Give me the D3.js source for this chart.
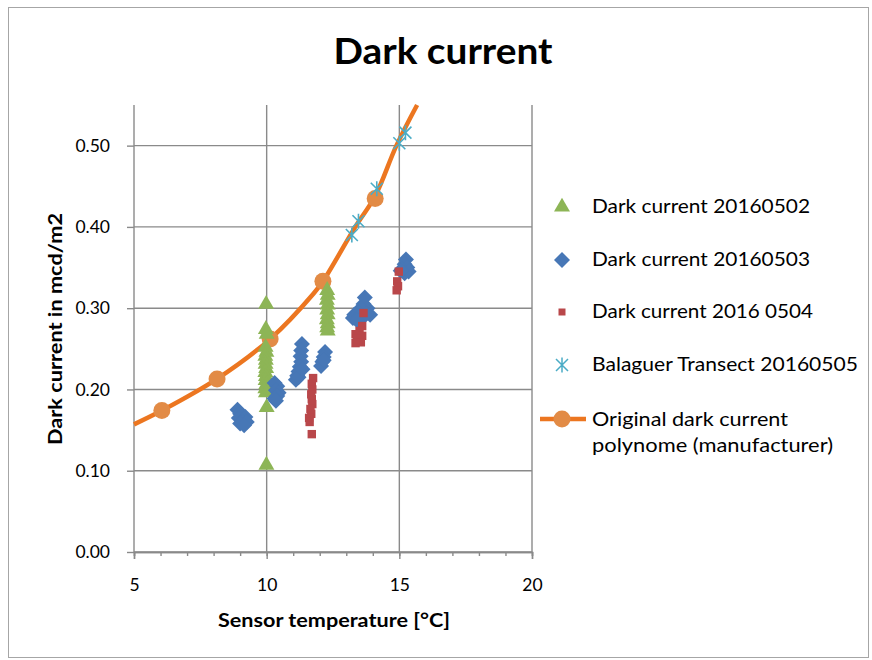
<!DOCTYPE html>
<html>
<head>
<meta charset="utf-8">
<script src="https://cdn.jsdelivr.net/npm/d3@7"></script>
<style>
  body { margin: 0; background: #fff; }
  text { font-family: Lato, "Open Sans", "DejaVu Sans", sans-serif; fill: #000; }
</style>
</head>
<body>
<svg id="chart" width="872" height="660"></svg>
<script>
// Measured dark current [temperature °C, dark current mcd/m2]
const dark0502 = [
  [9.98,0.305],[9.97,0.274],[10.0,0.268],[9.96,0.252],[9.99,0.246],[9.95,0.241],[9.97,0.236],
  [9.96,0.231],[9.98,0.226],[9.95,0.221],[9.97,0.216],[9.96,0.211],[9.98,0.206],[9.95,0.201],
  [9.97,0.196],[10.0,0.178],[9.99,0.107],
  [12.28,0.322],[12.3,0.316],[12.27,0.310],[12.3,0.304],[12.28,0.298],[12.3,0.292],[12.27,0.286],
  [12.3,0.281],[12.28,0.276],[12.3,0.272]
];
const dark0503 = [
  [8.9,0.175],[9.0,0.170],[8.95,0.165],[9.2,0.166],[9.1,0.160],[9.25,0.160],[9.0,0.158],[9.15,0.156],
  [10.3,0.208],[10.4,0.204],[10.35,0.199],[10.45,0.196],[10.4,0.192],[10.3,0.189],[10.35,0.186],
  [11.33,0.256],[11.3,0.248],[11.28,0.241],[11.3,0.234],[11.25,0.228],[11.2,0.222],[11.15,0.217],
  [11.1,0.212],[11.2,0.215],[11.35,0.225],
  [12.2,0.246],[12.15,0.240],[12.1,0.234],[12.05,0.229],[12.15,0.236],
  [13.7,0.313],[13.65,0.305],[13.8,0.300],[13.55,0.300],[13.45,0.295],[13.3,0.292],[13.25,0.288],
  [13.5,0.290],[13.9,0.292],[13.75,0.293],[13.6,0.288],[13.4,0.285],
  [15.25,0.360],[15.2,0.354],[15.3,0.350],[15.1,0.348],[15.35,0.345],[15.2,0.343],[15.05,0.346]
];
const dark0504 = [
  [11.75,0.214],[11.7,0.207],[11.72,0.200],[11.68,0.194],[11.7,0.188],[11.72,0.182],[11.65,0.176],
  [11.68,0.170],[11.6,0.165],[11.62,0.160],[11.7,0.145],
  [13.65,0.294],[13.6,0.278],[13.5,0.272],[13.35,0.268],[13.6,0.266],[13.4,0.262],[13.55,0.258],[13.35,0.257],
  [14.98,0.345],[14.92,0.333],[14.95,0.327],[14.9,0.322]
];
const balaguer0505 = [[13.21,0.390],[13.46,0.407],[14.15,0.447],[15.0,0.503],[15.23,0.516]];

// Manufacturer polynome: marked points and the traced curve
const polyMarkers = [[6.05,0.174],[8.13,0.213],[10.13,0.262],[12.12,0.333],[14.09,0.435]];
const polyCurve = [[5,0.157],[6.05,0.174],[8.13,0.213],[10.13,0.262],[11.77,0.318],[12.12,0.333],
  [13.34,0.40],[14.09,0.438],[14.89,0.50],[15.67,0.55]];

const xTicks = [5, 10, 15, 20];
const yTicks = [0, 0.1, 0.2, 0.3, 0.4, 0.5];

const legendLabels = ["Dark current 20160502", "Dark current 20160503", "Dark current 2016 0504",
  "Balaguer Transect 20160505", ["Original dark current", "polynome (manufacturer)"]];

const C = { green: "#8DB556", blue: "#4777B6", red: "#B9474A", teal: "#4BACC6",
            line: "#EC7620", dot: "#E28B46", grid: "#8A8A8A" };

const svg = d3.select("#chart");
const plot = { left: 134, right: 532, top: 105, bottom: 552 };

// chart frame
svg.append("rect").attr("x", 8.5).attr("y", 7.5).attr("width", 860).attr("height", 650)
  .attr("fill", "#fff").attr("stroke", "#A6A6A6").attr("stroke-width", 1);

const x = d3.scaleLinear().domain([5, 20]).range([plot.left, plot.right]);
const y = d3.scaleLinear().domain([0, 0.55]).range([plot.bottom, plot.top]);

// gridlines
const grid = svg.append("g");
grid.selectAll("line.v").data(xTicks).join("line")
  .attr("x1", d => x(d)).attr("x2", d => x(d)).attr("y1", plot.top).attr("y2", plot.bottom)
  .attr("stroke", C.grid).attr("stroke-width", 1.4);
grid.selectAll("line.h").data(yTicks).join("line")
  .attr("x1", plot.left).attr("x2", plot.right).attr("y1", d => y(d)).attr("y2", d => y(d))
  .attr("stroke", C.grid).attr("stroke-width", 1.4);

// axes
const xMinor = svg.append("g").attr("transform", `translate(0,${plot.bottom})`)
  .call(d3.axisBottom(x).tickValues(d3.range(5, 21, 1)).tickSize(4).tickFormat(""));
const xAxis = svg.append("g").attr("transform", `translate(0,${plot.bottom})`)
  .call(d3.axisBottom(x).tickValues(xTicks).tickSize(7).tickPadding(20).tickFormat(d3.format("d")));
const yAxis = svg.append("g").attr("transform", `translate(${plot.left},0)`)
  .call(d3.axisLeft(y).tickValues(yTicks).tickSize(7).tickPadding(17).tickFormat(d3.format(".2f")));
[xMinor, xAxis, yAxis].forEach(g => {
  g.select(".domain").attr("stroke", C.grid).attr("stroke-width", 1.4);
  g.selectAll(".tick line").attr("stroke", C.grid).attr("stroke-width", 1.4);
  g.selectAll("text").style("font-size", "17.5px").attr("fill", "#000");
});
yAxis.select(".domain").remove();

// marker shapes
const triPath = d3.symbol(d3.symbolTriangle, 110)();
const diaPath = "M0,-8L8,0L0,8L-8,0Z";
const sqPath = "M-4.2,-4.2H4.2V4.2H-4.2Z";
const starPath = "M0,-7.5V7.5M-6,-6L6,6M-6,6L6,-6";

// polynome curve (drawn beneath the measurements)
svg.append("path").datum(polyCurve)
  .attr("d", d3.line().x(d => x(d[0])).y(d => y(d[1])).curve(d3.curveCatmullRom))
  .attr("fill", "none").attr("stroke", C.line).attr("stroke-width", 4.5);
svg.append("g").selectAll("circle").data(polyMarkers).join("circle")
  .attr("cx", d => x(d[0])).attr("cy", d => y(d[1])).attr("r", 8.5).attr("fill", C.dot);

function drawSeries(data, path, style) {
  svg.append("g").selectAll("path").data(data).join("path")
    .attr("transform", d => `translate(${x(d[0])},${y(d[1])})`)
    .attr("d", path).call(style);
}
drawSeries(dark0502, triPath, s => s.attr("fill", C.green));
drawSeries(dark0503, diaPath, s => s.attr("fill", C.blue));
drawSeries(dark0504, sqPath, s => s.attr("fill", C.red));
drawSeries(balaguer0505, starPath, s => s.attr("fill", "none").attr("stroke", C.teal).attr("stroke-width", 1.6));

// title and axis titles
svg.append("text").attr("x", 443).attr("y", 64).attr("text-anchor", "middle")
  .style("font-size", "36px").style("font-weight", "bold")
  .attr("textLength", 219).attr("lengthAdjust", "spacingAndGlyphs").text("Dark current");
svg.append("text").attr("x", 334).attr("y", 627).attr("text-anchor", "middle")
  .style("font-size", "18px").style("font-weight", "bold")
  .attr("textLength", 232).attr("lengthAdjust", "spacingAndGlyphs").text("Sensor temperature [°C]");
svg.append("text").attr("transform", "translate(62,329) rotate(-90)").attr("text-anchor", "middle")
  .style("font-size", "18px").style("font-weight", "bold")
  .attr("textLength", 232).attr("lengthAdjust", "spacingAndGlyphs").text("Dark current in mcd/m2");

// legend
const legend = svg.append("g");
const lgMarkY = [207, 260, 312, 365];
const lgTextY = [213, 266, 318, 371];
const lgWidths = [218, 218, 221, 266];
const lgShapes = [
  g => g.append("path").attr("d", triPath).attr("fill", C.green),
  g => g.append("path").attr("d", diaPath).attr("fill", C.blue),
  g => g.append("path").attr("d", "M-3.5,-3.5H3.5V3.5H-3.5Z").attr("fill", C.red),
  g => g.append("path").attr("d", starPath).attr("fill", "none").attr("stroke", C.teal).attr("stroke-width", 1.5)
];
lgShapes.forEach((f, i) => {
  const g = legend.append("g").attr("transform", `translate(562,${lgMarkY[i]})`);
  f(g);
  legend.append("text").attr("x", 592).attr("y", lgTextY[i]).style("font-size", "20px")
    .attr("textLength", lgWidths[i]).attr("lengthAdjust", "spacingAndGlyphs").text(legendLabels[i]);
});
legend.append("line").attr("x1", 540).attr("x2", 586).attr("y1", 419).attr("y2", 419)
  .attr("stroke", C.line).attr("stroke-width", 4.5);
legend.append("circle").attr("cx", 562).attr("cy", 419).attr("r", 8.5).attr("fill", C.dot);
legend.append("text").attr("x", 592).attr("y", 426).style("font-size", "20px")
  .attr("textLength", 196).attr("lengthAdjust", "spacingAndGlyphs").text(legendLabels[4][0]);
legend.append("text").attr("x", 592).attr("y", 452).style("font-size", "20px")
  .attr("textLength", 241).attr("lengthAdjust", "spacingAndGlyphs").text(legendLabels[4][1]);
</script>
</body>
</html>
